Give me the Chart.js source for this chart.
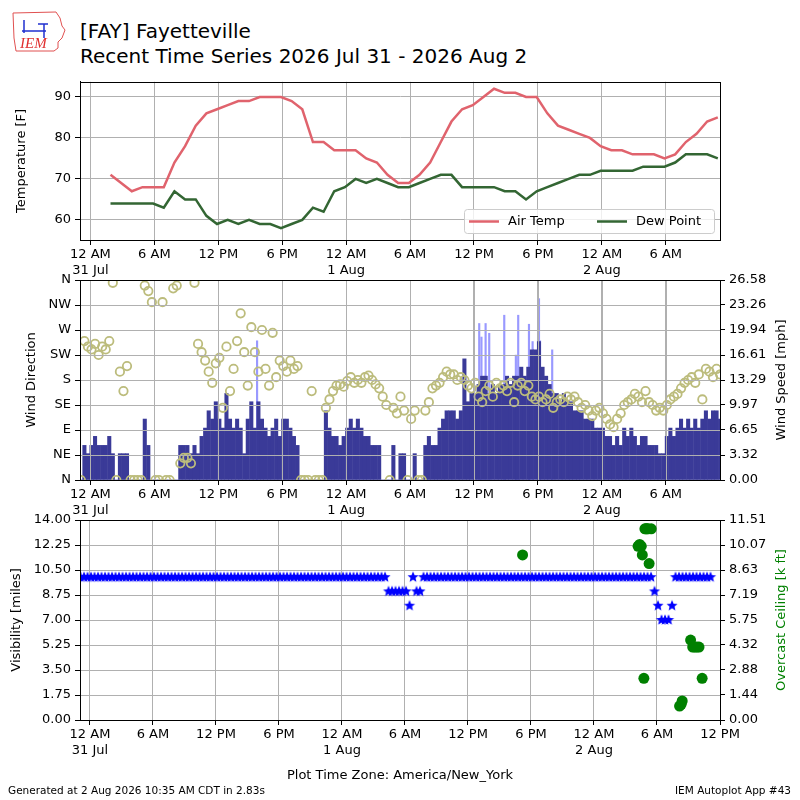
<!DOCTYPE html>
<html>
<head>
<meta charset="utf-8">
<script src="https://cdn.jsdelivr.net/npm/chart.js@4.4.1/dist/chart.umd.min.js"></script>
<style>
html, body { margin: 0; padding: 0; background: #fff; }
body { width: 800px; height: 800px; position: relative; overflow: hidden; font-family: "DejaVu Sans", sans-serif; }
.title { position: absolute; left: 80px; font-size: 20px; line-height: 24px; color: #000; white-space: nowrap; }
.foot { position: absolute; font-size: 10.5px; line-height: 13px; color: #000; white-space: nowrap; }
canvas.c { position: absolute; left: 0; }
</style>
</head>
<body>
<canvas id="logo" width="62" height="46" style="position:absolute;left:10px;top:8px"></canvas>
<div class="title" style="top:19px">[FAY] Fayetteville</div>
<div class="title" style="top:44px">Recent Time Series 2026 Jul 31 - 2026 Aug 2</div>
<canvas id="tempChart" class="c" width="800" height="210" style="top:70px"></canvas>
<canvas id="windChart" class="c" width="800" height="252" style="top:268px"></canvas>
<canvas id="visChart" class="c" width="800" height="292" style="top:508px"></canvas>
<div class="foot" style="left:8px;top:784px">Generated at 2 Aug 2026 10:35 AM CDT in 2.83s</div>
<div class="foot" style="right:9px;top:784px">IEM Autoplot App #43</div>
<script>
// time axis is hours since 31 Jul 00:00 (America/New_York)
const hourLabels = ['12 AM', '6 AM', '12 PM', '6 PM'];
const dayLabels = ['31 Jul', '1 Aug', '2 Aug'];
const xTicksUpper = [0, 6, 12, 18, 24, 30, 36, 42, 48, 54];
const xTicksLower = [0, 6, 12, 18, 24, 30, 36, 42, 48, 54, 60];

// hourly obs at hh:53, hours 1..58
const obsFirstHour = 1;
const airTemp = [71, 69, 67, 68, 68, 68, 74, 78, 83, 86,
  87, 88, 89, 89, 90, 90, 90, 89, 87, 79,
  79, 77, 77, 77, 75, 74, 71, 69, 69, 71,
  74, 79, 84, 87, 88, 90, 92, 91, 91, 90,
  90, 86, 83, 82, 81, 80, 78, 77, 77, 76,
  76, 76, 75, 76, 79, 81, 84, 85];
const dewPoint = [64, 64, 64, 64, 64, 63, 67, 65, 65, 61,
  59, 60, 59, 60, 59, 59, 58, 59, 60, 63,
  62, 67, 68, 70, 69, 70, 69, 68, 68, 69,
  70, 71, 71, 68, 68, 68, 68, 67, 67, 65,
  67, 68, 69, 70, 71, 71, 72, 72, 72, 72,
  73, 73, 73, 74, 76, 76, 76, 75];

// 20 minute samples starting 30 Jul 23:06
const sampleStart = -0.9;
const sampleStep = 1 / 3;
const windSpeed = [0, 4.6, 3.5, 4.6, 5.8, 4.6, 4.6, 4.6, 5.8, 3.5, 0, 3.5,
  3.5, 3.5, 0, 0, 0, 0, 8.1, 4.6, 0, 0, 0, 0,
  0, 0, 0, 0, 4.6, 4.6, 4.6, 3.5, 4.6, 3.5, 5.8, 6.9,
  9.2, 8.1, 10.4, 8.1, 6.9, 11.5, 8.1, 6.9, 8.1, 6.9, 3.5, 8.1,
  10.4, 6.9, 10.4, 8.1, 6.9, 5.8, 6.9, 8.1, 5.8, 8.1, 8.1, 6.9,
  5.8, 4.6, 0, 0, 0, 0, 0, 0, 0, 9.2, 6.9, 5.8,
  5.8, 4.6, 5.8, 6.9, 8.1, 6.9, 8.1, 6.9, 5.8, 5.8, 4.6, 4.6,
  4.6, 0, 0, 0, 4.6, 0, 3.5, 3.5, 0, 0, 3.5, 0,
  0, 4.6, 5.8, 4.6, 4.6, 6.9, 8.1, 9.2, 9.2, 9.2, 8.1, 9.2,
  16.1, 10.4, 11.5, 11.5, 12.7, 13.8, 13.8, 11.5, 12.7, 11.5, 12.7, 12.7,
  13.8, 12.7, 13.8, 13.8, 15.0, 13.8, 15.0, 17.3, 17.3, 18.4, 15.0, 13.8,
  12.7, 11.5, 11.5, 10.4, 11.5, 10.4, 10.4, 9.2, 9.2, 9.2, 8.1, 8.1,
  8.1, 6.9, 6.9, 6.9, 5.8, 5.8, 4.6, 5.8, 4.6, 6.9, 5.8, 6.9,
  5.8, 4.6, 5.8, 5.8, 4.6, 4.6, 4.6, 3.5, 3.5, 5.8, 6.9, 5.8,
  6.9, 8.1, 6.9, 8.1, 6.9, 8.1, 6.9, 8.1, 9.2, 8.1, 9.2, 9.2,
  8.1];
const windDir = [0, 250, 240, 235, 245, 225, 240, 235, 250, 355, 0, 195,
  160, 205, 0, 0, 0, 0, 350, 340, 320, 0, 0, 320,
  0, 0, 345, 350, 30, 40, 40, 30, 355, 245, 230, 215,
  195, 175, 210, 220, 130, 240, 160, 200, 250, 300, 230, 170,
  275, 230, 195, 270, 200, 170, 265, 185, 215, 205, 195, 215,
  200, 205, 0, 0, 0, 160, 0, 0, 0, 130, 145, 160,
  170, 172, 168, 178, 185, 175, 180, 175, 185, 188, 180, 172,
  165, 150, 135, 0, 130, 120, 150, 125, 0, 110, 125, 0,
  0, 125, 140, 165, 170, 175, 185, 195, 190, 190, 180, 185,
  180, 170, 165, 175, 150, 140, 160, 170, 150, 175, 165, 170,
  160, 175, 140, 170, 175, 160, 170, 150, 145, 150, 140, 145,
  155, 130, 140, 145, 140, 150, 145, 150, 140, 130, 135, 125,
  115, 125, 130, 120, 110, 100, 95, 110, 120, 135, 140, 145,
  155, 150, 140, 160, 140, 135, 125, 130, 125, 135, 145, 150,
  155, 165, 175, 180, 185, 175, 190, 145, 200, 195, 185, 200,
  190];
const visibility = [10, 10, 10, 10, 10, 10, 10, 10, 10, 10, 10, 10,
  10, 10, 10, 10, 10, 10, 10, 10, 10, 10, 10, 10,
  10, 10, 10, 10, 10, 10, 10, 10, 10, 10, 10, 10,
  10, 10, 10, 10, 10, 10, 10, 10, 10, 10, 10, 10,
  10, 10, 10, 10, 10, 10, 10, 10, 10, 10, 10, 10,
  10, 10, 10, 10, 10, 10, 10, 10, 10, 10, 10, 10,
  10, 10, 10, 10, 10, 10, 10, 10, 10, 10, 10, 10,
  10, 10, 10, 10, 9, 9, 9, 9, 9, 9, 8, 10,
  9, 9, 10, 10, 10, 10, 10, 10, 10, 10, 10, 10,
  10, 10, 10, 10, 10, 10, 10, 10, 10, 10, 10, 10,
  10, 10, 10, 10, 10, 10, 10, 10, 10, 10, 10, 10,
  10, 10, 10, 10, 10, 10, 10, 10, 10, 10, 10, 10,
  10, 10, 10, 10, 10, 10, 10, 10, 10, 10, 10, 10,
  10, 10, 10, 10, 10, 10, 10, 10, 9, 8, 7, 7,
  7, 8, 10, 10, 10, 10, 10, 10, 10, 10, 10, 10,
  10];

const gustTimes = [15.64, 36.49, 36.7, 37.09, 37.43, 38.84, 39.93, 40.15, 41.16, 41.5, 42.1, 42.2, 43.34];
const gustSpeed = [18.5, 20.8, 19.0, 20.8, 19.5, 21.9, 16.6, 21.9, 20.7, 18.4, 24.1, 18.5, 17.3];

const ceilTimes = [41.2, 52.2, 52.35, 52.5, 52.6, 52.75, 52.85, 52.95, 53.05, 53.15, 53.25, 53.45,
  56.15, 56.3, 56.4, 57.2, 57.4, 57.6, 57.8, 58.0, 58.3];
const ceilHeight = [9.5, 10.0, 10.1, 10.0, 9.5, 2.4, 11.0, 11.0, 11.0, 11.0, 9.0, 11.0,
  0.8, 0.9, 1.1, 4.6, 4.2, 4.2, 4.2, 4.2, 2.4];

const tempTicks = [60, 70, 80, 90];
const dirTicks = [0, 45, 90, 135, 180, 225, 270, 315, 360];
const dirLabels = ['N', 'NE', 'E', 'SE', 'S', 'SW', 'W', 'NW', 'N'];
const speedTicks = [0, 3.32, 6.65, 9.97, 13.29, 16.61, 19.94, 23.26, 26.58];
const visTicks = [0, 1.75, 3.5, 5.25, 7, 8.75, 10.5, 12.25, 14];
const ceilTicks = [0, 1.44, 2.88, 4.32, 5.75, 7.19, 8.63, 10.07, 11.51];

Chart.defaults.font.family = "'DejaVu Sans', sans-serif";
Chart.defaults.font.size = 13;
Chart.defaults.color = '#000';

const gridColor = '#b0b0b0';

function timeLabel(v) {
  const hod = ((v % 24) + 24) % 24;
  const lab = hourLabels[hod / 6];
  if (hod === 0) return [lab, dayLabels[v / 24]];
  return lab;
}

function fixTicks(list) {
  return function (scale) { scale.ticks = list.map(v => ({ value: v })); };
}

function xAxis(min, max, list, extra) {
  return Object.assign({
    type: 'linear', min: min, max: max, offset: false,
    afterBuildTicks: fixTicks(list),
    afterFit: s => { s.height = 40; },
    grid: { color: gridColor, tickColor: '#000', tickLength: 5, offset: false },
    border: { color: '#000' },
    ticks: { callback: v => timeLabel(v), maxRotation: 0, autoSkip: false, padding: 2 }
  }, extra || {});
}

function leftAxis(min, max, list, title, pad, fmt) {
  return {
    type: 'linear', position: 'left', min: min, max: max,
    afterBuildTicks: fixTicks(list),
    afterFit: s => { s.width = 80; },
    grid: { color: gridColor, tickColor: '#000', tickLength: 5 },
    border: { color: '#000' },
    ticks: { callback: fmt, padding: 4 },
    title: { display: true, text: title, padding: { top: pad, bottom: 0 } }
  };
}

function rightAxis(min, max, list) {
  return {
    type: 'linear', position: 'right', min: min, max: max,
    afterBuildTicks: fixTicks(list),
    afterFit: s => { s.width = 80; },
    grid: { drawOnChartArea: false, tickColor: '#000', tickLength: 5 },
    border: { color: '#000' },
    ticks: { callback: (v, i) => list[i].toFixed(2), padding: 4 }
  };
}

const frame = {
  id: 'frame',
  afterDraw(chart) {
    const a = chart.chartArea, ctx = chart.ctx;
    ctx.save();
    ctx.strokeStyle = '#000';
    ctx.lineWidth = 1;
    ctx.strokeRect(Math.round(a.left) + 0.5, Math.round(a.top) + 0.5, Math.round(a.right - a.left), Math.round(a.bottom - a.top));
    ctx.restore();
  }
};

// grid lines on top of the bars (matplotlib draws them over), as 1px rectangles
const gridOver = {
  id: 'gridOver',
  afterDatasetsDraw(chart, args, opts) {
    if (!opts.yId) return;
    const a = chart.chartArea, ctx = chart.ctx;
    const xs = chart.scales.x, ys = chart.scales[opts.yId];
    const l = Math.round(a.left), r = Math.round(a.right), t = Math.round(a.top), b = Math.round(a.bottom);
    ctx.save();
    ctx.globalAlpha = 1;
    ctx.fillStyle = gridColor;
    xTicksUpper.forEach(v => {
      const px = Math.round(xs.getPixelForValue(v));
      ctx.fillRect(px, t, 1, b - t);
    });
    dirTicks.forEach(v => {
      const py = Math.round(ys.getPixelForValue(v));
      ctx.fillRect(l, py, r - l, 1);
    });
    ctx.restore();
  }
};

// right hand axis label, reading bottom to top like matplotlib
const rightTitle = {
  id: 'rightTitle',
  afterDraw(chart, args, opts) {
    if (!opts.text) return;
    const a = chart.chartArea, ctx = chart.ctx;
    ctx.save();
    ctx.translate(782, (a.top + a.bottom) / 2);
    ctx.rotate(-Math.PI / 2);
    ctx.textAlign = 'center';
    ctx.textBaseline = 'middle';
    ctx.fillStyle = opts.color || '#000';
    ctx.font = "13px 'DejaVu Sans', sans-serif";
    ctx.fillText(opts.text, 0, 0);
    ctx.restore();
  }
};

const insideLegend = {
  id: 'insideLegend',
  afterDraw(chart) {
    const ctx = chart.ctx;
    const a = chart.chartArea;
    const x0 = a.right - 256, y0 = a.bottom - 31, w = 250, h = 24;
    ctx.save();
    ctx.fillStyle = 'rgba(255,255,255,0.8)';
    ctx.strokeStyle = '#cccccc';
    ctx.lineWidth = 1;
    ctx.beginPath();
    ctx.roundRect(x0 + 0.5, y0 + 0.5, w, h, 3);
    ctx.fill();
    ctx.stroke();
    ctx.font = "13px 'DejaVu Sans', sans-serif";
    ctx.textBaseline = 'middle';
    const offs = [5, 133];
    chart.data.datasets.forEach((ds, i) => {
      const lx = x0 + offs[i];
      ctx.strokeStyle = ds.borderColor;
      ctx.lineWidth = 2.5;
      ctx.beginPath();
      ctx.moveTo(lx, y0 + h / 2 + 0.5);
      ctx.lineTo(lx + 30, y0 + h / 2 + 0.5);
      ctx.stroke();
      ctx.fillStyle = '#000';
      ctx.fillText(ds.label, lx + 39, y0 + h / 2 + 1);
    });
    ctx.restore();
  }
};

function obsPoints(arr) {
  return arr.map((v, i) => ({ x: obsFirstHour + i + 53 / 60, y: v }));
}
function samplePoints(arr) {
  return arr.map((v, i) => ({ x: sampleStart + i * sampleStep, y: v }));
}
function pairPoints(xs, ys) {
  return xs.map((x, i) => ({ x: x, y: ys[i] }));
}

function makeStar(r, color) {
  const c = document.createElement('canvas');
  const s = Math.ceil(r * 2 + 2);
  c.width = s; c.height = s;
  const g = c.getContext('2d');
  g.fillStyle = color;
  g.beginPath();
  for (let i = 0; i < 10; i++) {
    const ang = -Math.PI / 2 + i * Math.PI / 5;
    const rr = i % 2 === 0 ? r : r * 0.45;
    g.lineTo(s / 2 + rr * Math.cos(ang), s / 2 + rr * Math.sin(ang));
  }
  g.closePath();
  g.fill();
  return c;
}

// temperature panel
new Chart(document.getElementById('tempChart'), {
  type: 'scatter',
  data: {
    datasets: [
      { label: 'Air Temp', data: obsPoints(airTemp), showLine: true, borderColor: '#e0636d', borderWidth: 2.5, pointRadius: 0, tension: 0 },
      { label: 'Dew Point', data: obsPoints(dewPoint), showLine: true, borderColor: '#336633', borderWidth: 2.5, pointRadius: 0, tension: 0 }
    ]
  },
  options: {
    responsive: false, animation: false,
    layout: { padding: { top: 11, right: 80, left: 0, bottom: 0 } },
    plugins: { legend: { display: false }, tooltip: { enabled: false } },
    scales: {
      x: xAxis(-0.98, 59.09, xTicksUpper),
      y: leftAxis(55.1, 93.7, tempTicks, 'Temperature [F]', 14, v => String(v))
    }
  },
  plugins: [frame, insideLegend]
});

// wind panel
new Chart(document.getElementById('windChart'), {
  type: 'scatter',
  data: {
    datasets: [
      { type: 'bar', label: 'Gust', data: pairPoints(gustTimes, gustSpeed), yAxisID: 'ySpeed', backgroundColor: '#9999ff', barThickness: 1.5, grouped: false, order: 3 },
      { type: 'bar', label: 'Speed', data: samplePoints(windSpeed), yAxisID: 'ySpeed', backgroundColor: '#3a3a98', barThickness: 3.4, grouped: false, order: 2 },
      { type: 'scatter', label: 'Direction', data: samplePoints(windDir), yAxisID: 'yDir', pointStyle: 'circle', pointRadius: 4.2, borderWidth: 1.8, borderColor: '#bcbc7c', backgroundColor: 'rgba(0,0,0,0)', clip: 0, order: 1 }
    ]
  },
  options: {
    responsive: false, animation: false,
    layout: { padding: { top: 12, right: 0, left: 0, bottom: 0 } },
    plugins: {
      legend: { display: false }, tooltip: { enabled: false },
      rightTitle: { text: 'Wind Speed [mph]', color: '#000' },
      gridOver: { yId: 'yDir' }
    },
    scales: {
      x: xAxis(-0.98, 59.09, xTicksUpper),
      yDir: leftAxis(0, 360, dirTicks, 'Wind Direction', 24, (v, i) => dirLabels[i]),
      ySpeed: rightAxis(0, 26.58, speedTicks)
    }
  },
  plugins: [gridOver, frame, rightTitle]
});

// visibility / ceiling panel
new Chart(document.getElementById('visChart'), {
  type: 'scatter',
  data: {
    datasets: [
      { label: 'Visibility', data: samplePoints(visibility), yAxisID: 'yVis', pointStyle: makeStar(5.8, '#0000ff'), pointRadius: 5, clip: 0, order: 2 },
      { label: 'Ceiling', data: pairPoints(ceilTimes, ceilHeight), yAxisID: 'yCeil', pointStyle: 'circle', pointRadius: 5.5, borderWidth: 0, backgroundColor: '#008000', clip: 0, order: 1 }
    ]
  },
  options: {
    responsive: false, animation: false,
    layout: { padding: { top: 12, right: 0, left: 0, bottom: 0 } },
    plugins: { legend: { display: false }, tooltip: { enabled: false }, rightTitle: { text: 'Overcast Ceiling [k ft]', color: '#008000' } },
    scales: {
      x: xAxis(-0.95, 60, xTicksLower, {
        afterFit: s => { s.height = 80; },
        title: { display: true, text: 'Plot Time Zone: America/New_York', padding: { top: 0, bottom: 17 } }
      }),
      yVis: leftAxis(0, 14, visTicks, 'Visibility [miles]', 9, (v, i) => visTicks[i].toFixed(2)),
      yCeil: rightAxis(0, 11.51, ceilTicks)
    }
  },
  plugins: [frame, rightTitle]
});

// IEM logo
(function () {
  const g = document.getElementById('logo').getContext('2d');
  g.strokeStyle = '#e05050';
  g.lineWidth = 1;
  g.beginPath();
  g.moveTo(3, 5); g.lineTo(46, 4); g.lineTo(50, 10); g.lineTo(52, 18);
  g.lineTo(55, 22); g.lineTo(52, 30); g.lineTo(48, 34); g.lineTo(48, 40);
  g.lineTo(44, 43); g.lineTo(6, 43); g.lineTo(4, 30); g.closePath();
  g.stroke();
  g.strokeStyle = '#2030d0';
  g.lineWidth = 1.5;
  g.beginPath();
  g.moveTo(12, 23); g.lineTo(36, 23);
  g.moveTo(14, 12); g.lineTo(14, 25);
  g.moveTo(34, 16); g.lineTo(34, 30);
  g.moveTo(28, 16); g.lineTo(38, 16);
  g.stroke();
  g.fillStyle = '#e03030';
  g.font = "italic 15px 'Liberation Serif', serif";
  g.fillText('IEM', 10, 40);
})();
</script>
</body>
</html>
